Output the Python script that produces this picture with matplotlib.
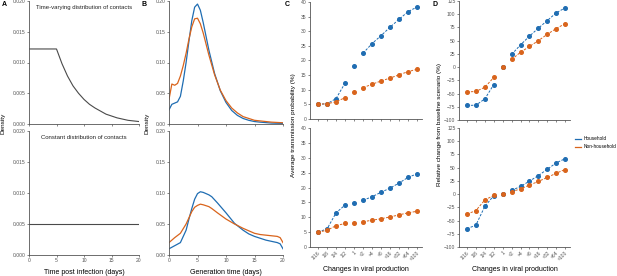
import matplotlib

matplotlib.use("Agg")
import matplotlib.pyplot as plt
import numpy as np

plt.rcParams["font.family"] = ["Liberation Sans", "DejaVu Sans"]

BLUE = "#1f6db2"
ORANGE = "#d9641c"
GREY = "#555555"

# Panel A: contact distributions
days_a = [0, 1, 2, 3, 4, 5, 6, 7, 8, 9, 10, 11, 12, 13, 14, 15, 16, 17, 18, 19, 20]
contacts_varying = [0.0122, 0.0122, 0.0122, 0.0122, 0.0122, 0.0122, 0.0098, 0.0078, 0.0062,
                    0.0050, 0.0040, 0.0032, 0.0026, 0.0021, 0.0016, 0.0013, 0.0010, 0.0008,
                    0.0006, 0.0005, 0.0004]
contacts_constant = [0.005] * len(days_a)

# Panel B: generation time densities
days_b = [0, 0.5, 1, 1.5, 2, 2.5, 3, 3.5, 4, 4.5, 5, 5.5, 6, 7, 8, 9, 10, 11, 12, 13, 14, 15, 16, 18, 20]
gen_hh_varying = [0.023, 0.032, 0.034, 0.036, 0.045, 0.070, 0.100, 0.135, 0.168, 0.190, 0.195,
                  0.185, 0.165, 0.120, 0.082, 0.054, 0.035, 0.022, 0.014, 0.009, 0.006, 0.004,
                  0.003, 0.0015, 0.001]
gen_nh_varying = [0.040, 0.065, 0.063, 0.066, 0.078, 0.095, 0.115, 0.138, 0.158, 0.171, 0.172,
                  0.163, 0.148, 0.112, 0.080, 0.055, 0.038, 0.026, 0.018, 0.012, 0.009, 0.006,
                  0.005, 0.003, 0.002]
days_b2 = [0, 1, 2, 3, 3.5, 4, 4.5, 5, 5.5, 6, 7, 7.5, 8.5, 10, 11.5, 13, 14, 15, 16, 17, 18, 19, 19.5, 20]
gen_hh_const = [0.010, 0.015, 0.020, 0.040, 0.058, 0.075, 0.090, 0.099, 0.102, 0.101, 0.097,
                0.094, 0.084, 0.068, 0.051, 0.040, 0.034, 0.030, 0.027, 0.024, 0.022, 0.020,
                0.018, 0.010]
gen_nh_const = [0.020, 0.028, 0.035, 0.050, 0.060, 0.070, 0.077, 0.080, 0.082, 0.081, 0.078,
                0.075, 0.068, 0.058, 0.050, 0.043, 0.039, 0.035, 0.033, 0.032, 0.031, 0.030,
                0.028, 0.020]

# Panels C and D: viral production scenarios
scenarios = ["1/16", "1/8", "1/4", "1/2", "1", "\u00d72", "\u00d74", "\u00d78",
             "\u00d716", "\u00d732", "\u00d764", "\u00d7100"]
prob_hh_varying = [5.0, 5.2, 7.0, 12.3, 18.1, 22.5, 25.8, 28.5, 31.4, 34.1, 36.7, 38.3]
prob_nh_varying = [5.1, 5.2, 5.9, 7.3, 9.3, 10.7, 11.9, 13.0, 14.0, 15.1, 16.2, 17.0]
prob_hh_const = [5.0, 6.1, 11.5, 14.1, 14.8, 15.7, 16.9, 18.4, 19.8, 21.5, 23.4, 24.6]
prob_nh_const = [5.0, 5.6, 7.2, 7.9, 8.2, 8.5, 9.0, 9.5, 10.1, 10.8, 11.5, 12.0]
rel_hh_varying = [-72.5, -72, -60, -33, 0, 24, 42, 58.5, 73.6, 88, 102.5, 112]
rel_nh_varying = [-47, -46, -38, -19.5, 0, 14.5, 28, 39, 50, 62, 73, 82]
rel_hh_const = [-65.5, -58.5, -23, -3, 0, 7, 14.5, 24.5, 35, 47, 59, 67]
rel_nh_const = [-38, -31, -11, -2.5, 0, 4.5, 10, 17, 24, 31.5, 39.5, 46.5]

W, H = 617, 276
fig = plt.figure(figsize=(W / 100, H / 100), dpi=100)


def box(x0, x1, ytop, ybot):
    return [x0 / W, 1 - ybot / H, (x1 - x0) / W, (ybot - ytop) / H]


def style(ax):
    for s in ["top", "right"]:
        ax.spines[s].set_visible(False)
    for s in ["left", "bottom"]:
        ax.spines[s].set_color(GREY)
        ax.spines[s].set_linewidth(0.6)
    ax.tick_params(labelsize=3.6, colors=GREY, length=1.5, width=0.5, pad=1)


# ---- Panel A
axA1 = fig.add_axes(box(29, 139, 1, 124))
axA2 = fig.add_axes(box(29, 139, 131, 255))
axA1.plot(days_a, contacts_varying, color="#4a4a4a", lw=0.8)
axA2.plot(days_a, contacts_constant, color="#4a4a4a", lw=0.8)
for ax, title in [(axA1, "Time-varying distribution of contacts"),
                  (axA2, "Constant distribution of contacts")]:
    style(ax)
    ax.set_xlim(0, 20)
    ax.set_ylim(0, 0.020)
    ax.set_xticks([0, 5, 10, 15, 20])
    ax.set_yticks([0, 0.005, 0.010, 0.015, 0.020])
    ax.set_yticklabels(["0.000", "0.005", "0.010", "0.015", "0.020"])
    ax.text(0.5, 0.965, title, transform=ax.transAxes, ha="center", va="top", fontsize=4.3, color="#222222")
axA1.set_xticklabels([])
axA2.set_xlabel("Time post infection (days)", fontsize=5, labelpad=4)
fig.text(1 / W, 1 - 123 / H, "Density", rotation=90, fontsize=4.6, ha="left", va="center")

# ---- Panel B
axB1 = fig.add_axes(box(169, 283, 1, 124))
axB2 = fig.add_axes(box(169, 283, 131, 255))
axB1.plot(days_b, gen_hh_varying, color=BLUE, lw=0.9)
axB1.plot(days_b, gen_nh_varying, color=ORANGE, lw=0.9)
axB2.plot(days_b2, gen_hh_const, color=BLUE, lw=0.9)
axB2.plot(days_b2, gen_nh_const, color=ORANGE, lw=0.9)
for ax in (axB1, axB2):
    style(ax)
    ax.set_xlim(0, 20)
    ax.set_ylim(0, 0.20)
    ax.set_xticks([0, 5, 10, 15, 20])
    ax.set_yticks([0, 0.05, 0.10, 0.15, 0.20])
    ax.set_yticklabels(["0.00", "0.05", "0.10", "0.15", "0.20"])
axB1.set_xticklabels([])
axB2.set_xlabel("Generation time (days)", fontsize=5, labelpad=4)
fig.text(145 / W, 1 - 123 / H, "Density", rotation=90, fontsize=4.6, ha="left", va="center")

# ---- Panels C and D
x = np.arange(len(scenarios))


def scenario_plot(ax, hh, nh):
    hh = np.array(hh)
    nh = np.array(nh)
    for vals, c in [(hh, BLUE), (nh, ORANGE)]:
        for seg in (slice(0, 4), slice(5, 12)):
            ax.plot(x[seg], vals[seg], color=c, lw=0.7, ls=(0, (2.5, 1.5)))
        ax.plot(x, vals, ls="none", marker="o", ms=2.6, color=c, mec=c)
    style(ax)
    ax.set_xlim(-0.9, 11.55)
    ax.set_xticks(x)


axC1 = fig.add_axes(box(310, 422, 2, 119))
axC2 = fig.add_axes(box(310, 422, 128, 247))
scenario_plot(axC1, prob_hh_varying, prob_nh_varying)
scenario_plot(axC2, prob_hh_const, prob_nh_const)
for ax in (axC1, axC2):
    ax.set_ylim(0, 40)
    ax.set_yticks(range(0, 41, 5))
axC1.set_xticklabels([])
axC2.set_xticklabels(scenarios, rotation=45, ha="right", rotation_mode="anchor")
axC2.set_xlabel("Changes in viral production", fontsize=5, labelpad=3)
fig.text(293 / W, 1 - 125 / H, "Average transmission probability (%)", rotation=90,
         fontsize=4.6, ha="center", va="center")

axD1 = fig.add_axes(box(459, 570, 1, 120))
axD2 = fig.add_axes(box(459, 570, 128, 247))
scenario_plot(axD1, rel_hh_varying, rel_nh_varying)
scenario_plot(axD2, rel_hh_const, rel_nh_const)
for ax in (axD1, axD2):
    ax.set_ylim(-100, 125)
    ax.set_yticks(range(-100, 126, 25))
axD1.set_xticklabels([])
axD2.set_xticklabels(scenarios, rotation=45, ha="right", rotation_mode="anchor")
axD2.set_xlabel("Changes in viral production", fontsize=5, labelpad=3)
fig.text(440 / W, 1 - 125 / H, "Relative change from baseline scenario (%)", rotation=90,
         fontsize=4.6, ha="center", va="center")

# legend
legend_handles = [plt.Line2D([], [], color=BLUE, lw=0.9), plt.Line2D([], [], color=ORANGE, lw=0.9)]
fig.legend(legend_handles, ["Household", "Non-household"], loc="upper left",
           bbox_to_anchor=(573 / W, 1 - 134 / H), frameon=False, fontsize=3.4,
           handlelength=1.2, handletextpad=0.5, labelspacing=0.6, borderpad=0)

for lab, px in [("A", 2), ("B", 141), ("C", 285), ("D", 432)]:
    fig.text(px / W, 1 - 1 / H, lab, fontsize=5, fontweight="bold", ha="left", va="top")

fig.savefig("out.png", dpi=100)
